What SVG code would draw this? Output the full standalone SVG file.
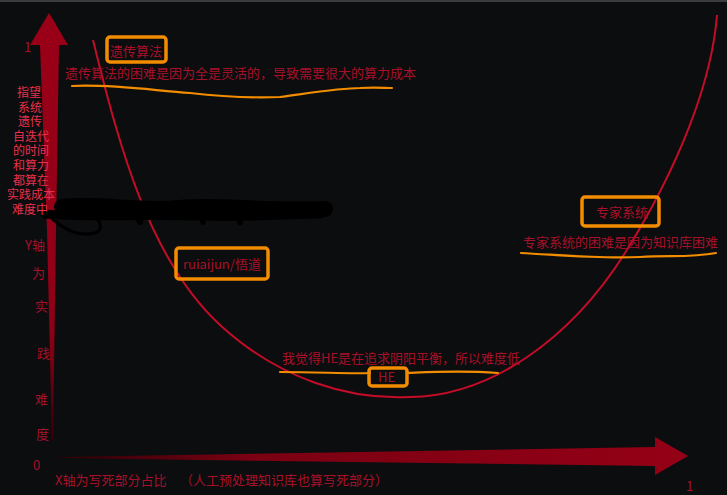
<svg xmlns="http://www.w3.org/2000/svg" width="727" height="495" viewBox="0 0 727 495">
<defs>
<linearGradient id="gy" x1="0" y1="0" x2="0" y2="1">
<stop offset="0" stop-color="#9a0018"/>
<stop offset="0.75" stop-color="#8e0016"/>
<stop offset="1" stop-color="#3a0008"/>
</linearGradient>
<linearGradient id="gx" x1="0" y1="0" x2="1" y2="0">
<stop offset="0" stop-color="#2a0006"/>
<stop offset="0.3" stop-color="#7a0012"/>
<stop offset="1" stop-color="#950016"/>
</linearGradient>
<style>
.t{font-family:"Noto Sans CJK SC","Liberation Sans",sans-serif;fill:#a8102a;font-size:13px}
.v{font-family:"Noto Sans CJK SC","Liberation Sans",sans-serif;fill:#e8304c;font-size:12px;text-anchor:middle}
.box{fill:none;stroke:#f28c00;stroke-width:3.5}
.ul{fill:none;stroke:#f28c00;stroke-width:2.2;stroke-linecap:round}
.blk{fill:none;stroke:#000;stroke-linecap:round;stroke-linejoin:round}
</style>
</defs>
<rect width="727" height="495" fill="#0c0d0e"/>
<rect width="727" height="2" fill="#3a3c40"/>
<g id="axes">
<path d="M49,13 L68,45 L59,45 L56,230 L53,440 L52,440 L47,230 L40,45 L30,45 Z" fill="url(#gy)"/>
<path d="M58,457 L655,447 L655,437 L688,456 L655,475 L655,466 L58,458 Z" fill="url(#gx)"/>
</g>
<g id="connectors">
<path d="M93,40 C120,150 150,260 220,325 C280,380 350,400 410,397 C490,396 570,340 625,253 C680,165 712,80 717,15" fill="none" stroke="#c20c28" stroke-width="2"/>
</g>
<g id="scribble">
<path class="blk" stroke-width="16" d="M62,207 C100,203 140,212 180,208 C220,204 260,212 325,209"/>
<path class="blk" stroke-width="9" d="M45,214 C90,218 140,214 200,216 C250,218 290,214 320,214"/>
<path class="blk" stroke-width="3" d="M42,207 C55,225 75,238 95,233 C105,230 100,218 90,214"/>
<path class="blk" stroke-width="6" d="M130,205 L140,222 M200,206 L203,222 M235,204 L240,222"/>
</g>
<g id="ylabels">
<text class="t" x="24" y="52" font-size="12">1</text>
<text class="v"><tspan x="29" y="97">指望</tspan><tspan x="30" y="111.6">系统</tspan><tspan x="30" y="126.2">遗传</tspan><tspan x="31" y="140.8">自迭代</tspan><tspan x="31" y="155.4">的时间</tspan><tspan x="31" y="170">和算力</tspan><tspan x="31" y="184.6">都算在</tspan><tspan x="31" y="199.2">实践成本</tspan><tspan x="30" y="213.8">难度中</tspan></text>
<text class="t" x="25" y="250" font-size="12">Y轴</text>
<text class="t" x="32" y="278" font-size="12">为</text>
<text class="t" x="35" y="311" font-size="12">实</text>
<text class="t" x="37" y="358" font-size="12">践</text>
<text class="t" x="35" y="404" font-size="12">难</text>
<text class="t" x="36" y="439" font-size="12">度</text>
<text class="t" x="33" y="470" font-size="12">0</text>
<text class="t" x="55" y="485">X轴为写死部分占比</text>
<text class="t" x="180" y="485" font-size="12">（人工预处理知识库也算写死部分）</text>
<text class="t" x="686" y="491" font-size="12">1</text>
</g>
<g id="node-ga">
<rect class="box" x="107" y="37" width="59" height="25" rx="3"/>
<text class="t" x="110" y="56">遗传算法</text>
<text class="t" x="65" y="78">遗传算法的困难是因为全是灵活的，导致需要很大的算力成本</text>
<path class="ul" d="M72,86 C110,84 150,90 190,93 C215,96 250,98 280,97 C310,93 340,88 360,88 C375,87 385,88 392,88"/>
</g>
<g id="node-ruiaijun">
<rect class="box" x="176" y="248" width="92" height="31" rx="3"/>
<text class="t" x="183" y="269">ruiaijun/悟道</text>
</g>
<g id="node-expert">
<rect class="box" x="582" y="197" width="77" height="29" rx="3"/>
<text class="t" x="596" y="217">专家系统</text>
<text class="t" x="523" y="247">专家系统的困难是因为知识库困难</text>
<path class="ul" d="M521,253 C560,255 600,259 640,257 C670,255 690,258 716,253"/>
</g>
<g id="node-he">
<text class="t" x="282" y="363">我觉得HE是在追求阴阳平衡，所以难度低</text>
<path class="ul" d="M280,372 C320,372 350,374 370,373 M407,373 C430,372 460,370 498,373"/>
<rect class="box" x="369" y="368" width="38" height="18" rx="3"/>
<text class="t" x="378" y="382">HE</text>
</g>
</svg>
